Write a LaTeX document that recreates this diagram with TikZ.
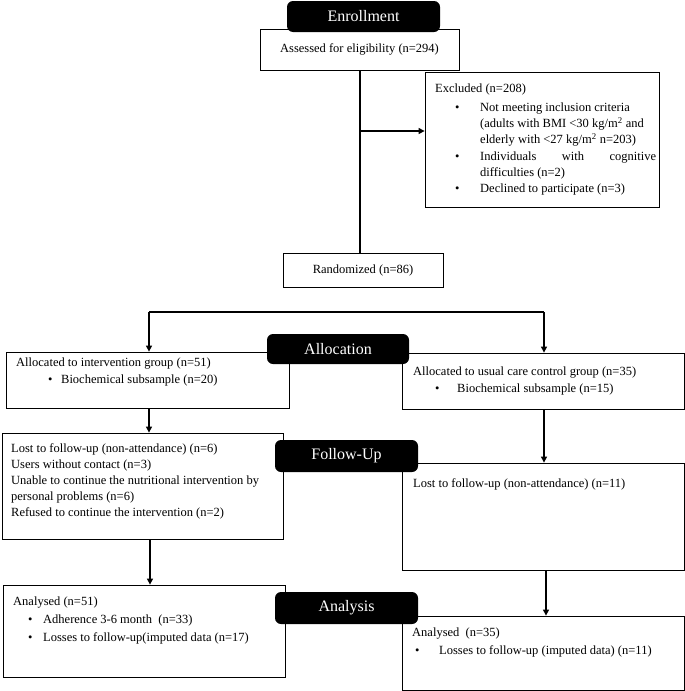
\documentclass[tikz,border=0pt]{standalone}
\usepackage{fontspec}
\setmainfont{Liberation Serif}
\usetikzlibrary{arrows.meta}
\newcommand\boxfont{\fontsize{12.5}{16}\selectfont}
\newcommand\bul[2]{\hspace*{#1}\makebox[#2][l]{\textbullet}}
\begin{document}
\begin{tikzpicture}[x=1pt,y=-1pt,
  box/.style={draw, line width=0.8pt, rectangle, inner sep=0pt, font=\boxfont},
  lab/.style={fill=black, rounded corners=6pt, text=white, inner sep=0pt, font=\fontsize{16}{18}\selectfont},
  txt/.style={anchor=north west, align=left, inner sep=0pt, font=\boxfont},
  conn/.style={line width=1.1pt},
  arr/.style={conn, -{Triangle[length=6pt,width=6pt]}}]
\useasboundingbox (0,0) rectangle (685,691);

% boxes
\node[box, minimum width=199pt, minimum height=41pt] (assess) at (359.5,49.5) {Assessed for eligibility (n=294)};
\node[box, minimum width=234pt, minimum height=135pt] (excl) at (542,139.5) {};
\node[txt] (exclt) at (435,84) {Excluded (n=208)\\[3pt]
\bul{20pt}{25pt}Not meeting inclusion criteria\\
\hspace*{45pt}(adults with BMI <30 kg/m\textsuperscript{2} and\\
\hspace*{45pt}elderly with <27 kg/m\textsuperscript{2} n=203)\\[1pt]
\bul{20pt}{25pt}\hbox to 176pt{Individuals\hfill with\hfill cognitive}\\
\hspace*{45pt}difficulties (n=2)\\
\bul{20pt}{25pt}Declined to participate (n=3)};
\node[box, minimum width=160pt, minimum height=34pt] (rand) at (363,270) {Randomized (n=86)};

\node[box, minimum width=283pt, minimum height=56pt] (allocL) at (147.5,380) {};
\node[txt] (allocLt) at (16,358) {Allocated to intervention group (n=51)\\[1pt]
\bul{32pt}{13pt}Biochemical subsample (n=20)};
\node[box, minimum width=282pt, minimum height=56pt] (allocR) at (543,381) {};
\node[txt] (allocRt) at (413,367) {Allocated to usual care control group (n=35)\\[1pt]
\bul{22pt}{22pt}Biochemical subsample (n=15)};

\node[box, minimum width=281pt, minimum height=106pt] (fuL) at (142.5,486) {};
\node[txt] (fuLt) at (11,443) {Lost to follow-up (non-attendance) (n=6)\\
Users without contact (n=3)\\
Unable to continue the nutritional intervention by\\
personal problems (n=6)\\
Refused to continue the intervention (n=2)};
\node[box, minimum width=282pt, minimum height=107pt] (fuR) at (543,516.5) {};
\node[txt] (fuRt) at (413,478) {Lost to follow-up (non-attendance) (n=11)};

\node[box, minimum width=282pt, minimum height=92pt] (anL) at (144,631) {};
\node[txt] (anLt) at (13,597) {Analysed (n=51)\\[2pt]
\bul{15pt}{15pt}Adherence 3-6 month\ \ (n=33)\\[2pt]
\bul{15pt}{15pt}Losses to follow-up(imputed data (n=17)};
\node[box, minimum width=282pt, minimum height=74pt] (anR) at (543,653) {};
\node[txt] (anRt) at (412,628) {Analysed\ \ (n=35)\\[2pt]
\bul{3pt}{24pt}Losses to follow-up (imputed data) (n=11)};

% connectors
\coordinate (vA) at (360,131);
\draw[conn] (vA |- assess.south) -- (vA |- rand.north);
\draw[arr] (vA) -- (vA -| excl.west);

\coordinate (sL) at (149,312);
\coordinate (sR) at (544,312);
\draw[conn] (sL) -- (sR);
\draw[arr] (sL) -- (sL |- allocL.north);
\draw[arr] (sR) -- (sR |- allocR.north);
\draw[arr] (sL |- allocL.south) -- (sL |- fuL.north);
\coordinate (vL2) at (150,0);
\draw[arr] (vL2 |- fuL.south) -- (vL2 |- anL.north);
\draw[arr] (sR |- allocR.south) -- (sR |- fuR.north);
\coordinate (vR2) at (546,0);
\draw[arr] (vR2 |- fuR.south) -- (vR2 |- anR.north);

% stage labels
\node[lab, minimum width=153pt, minimum height=31pt] (enroll) at (363.5,16.5) {Enrollment};
\node[lab, minimum width=142pt, minimum height=30pt] (alloc) at (338,349) {Allocation};
\node[lab, minimum width=143pt, minimum height=32pt] (fu) at (346.5,456) {Follow-Up};
\node[lab, minimum width=143pt, minimum height=32pt] (an) at (346.5,608) {Analysis};
\end{tikzpicture}
\end{document}
